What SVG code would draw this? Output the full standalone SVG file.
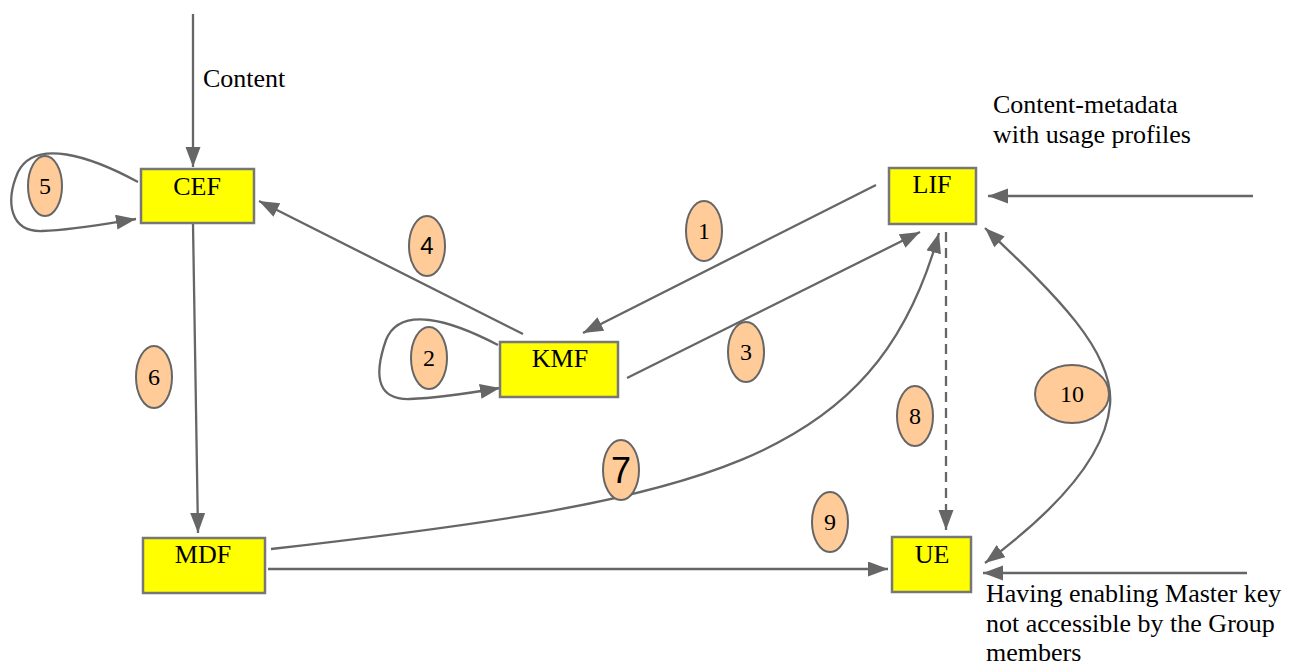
<svg xmlns="http://www.w3.org/2000/svg" width="1289" height="668" viewBox="0 0 1289 668">
<defs>
<marker id="ah" markerUnits="userSpaceOnUse" markerWidth="22" markerHeight="16" refX="20" refY="7.5" orient="auto">
<path d="M0,0 L20,7.5 L0,15 z" fill="#666"/>
</marker>
<marker id="ahs" markerUnits="userSpaceOnUse" markerWidth="22" markerHeight="16" refX="0" refY="7.5" orient="auto">
<path d="M20,0 L0,7.5 L20,15 z" fill="#666"/>
</marker>
<style>
.box{fill:#ffff00;stroke:#777;stroke-width:2.5}
.lbl{font-family:"Liberation Serif","Times New Roman",serif;font-size:26px;fill:#000}
.bl{font-family:"Liberation Serif","Times New Roman",serif;font-size:26px;fill:#000;text-anchor:middle}
.num{font-family:"Liberation Serif","Times New Roman",serif;font-size:24px;fill:#000;text-anchor:middle}
.nums{font-family:"Liberation Sans",Arial,sans-serif;font-size:24px;fill:#000;text-anchor:middle}
.ell{fill:#ffcc99;stroke:#666;stroke-width:2}
.c{fill:none;stroke:#666;stroke-width:2.3;marker-end:url(#ah)}
</style>
</defs>
<g id="connectors">
<path class="c" d="M193,14 L193,167"/>
<path class="c" d="M138,182 C90,156 35,138 18,172 C5,202 10,232 42,231 C75,230 105,224 136,219"/>
<path class="c" d="M193,224 L198,533"/>
<path class="c" d="M523,334 L259,201"/>
<path class="c" d="M876,185 L583,333"/>
<path class="c" d="M627,378 L920,232"/>
<path class="c" d="M498,345 C450,320 400,305 386,340 C372,380 380,400 410,399 C440,398 470,393 500,388"/>
<path class="c" d="M271,549 C700,500 875,465 939,233"/>
<path class="c" d="M946,232 L946,530" stroke-dasharray="10,6"/>
<path class="c" d="M268,569 L888,569"/>
<path class="c" d="M985,228 C1050,290 1115,350 1110,405 C1105,460 1050,515 985,563" style="marker-start:url(#ahs)"/>
<path class="c" d="M1253,196 L988,196"/>
<path class="c" d="M1247,573 L983,573"/>
</g>
<g id="CEF"><rect class="box" x="141" y="169" width="113" height="54"/><text class="bl" x="197" y="195">CEF</text></g>
<g id="KMF"><rect class="box" x="500" y="342" width="118" height="55"/><text class="bl" x="560" y="367">KMF</text></g>
<g id="LIF"><rect class="box" x="889" y="168" width="87" height="56"/><text class="bl" x="932" y="193">LIF</text></g>
<g id="MDF"><rect class="box" x="143" y="538" width="122" height="55"/><text class="bl" x="203" y="563">MDF</text></g>
<g id="UE"><rect class="box" x="892" y="537" width="79" height="55"/><text class="bl" x="932" y="563">UE</text></g>
<g id="label-1"><ellipse class="ell" cx="704" cy="231" rx="18" ry="30"/><text class="num" x="704" y="239">1</text></g>
<g id="label-2"><ellipse class="ell" cx="429" cy="358" rx="18" ry="31"/><text class="num" x="429" y="366">2</text></g>
<g id="label-3"><ellipse class="ell" cx="746" cy="352" rx="18" ry="30"/><text class="num" x="746" y="360">3</text></g>
<g id="label-4"><ellipse class="ell" cx="427" cy="246" rx="18" ry="30"/><text class="nums" x="427" y="254">4</text></g>
<g id="label-5"><ellipse class="ell" cx="45" cy="186" rx="17" ry="30"/><text class="num" x="45" y="194">5</text></g>
<g id="label-6"><ellipse class="ell" cx="154" cy="377" rx="18" ry="31"/><text class="num" x="154" y="385">6</text></g>
<g id="label-7"><ellipse class="ell" cx="621" cy="470" rx="18" ry="30"/><text class="nums" x="621" y="483" style="font-size:36px">7</text></g>
<g id="label-8"><ellipse class="ell" cx="915" cy="416" rx="18" ry="30"/><text class="num" x="915" y="424">8</text></g>
<g id="label-9"><ellipse class="ell" cx="830" cy="522" rx="18" ry="30"/><text class="num" x="830" y="530">9</text></g>
<g id="label-10"><ellipse class="ell" cx="1072" cy="394" rx="37" ry="29"/><text class="num" x="1072" y="402">10</text></g>
<g id="texts">
<text class="lbl" x="203" y="87">Content</text>
<text class="lbl" x="993" y="113">Content-metadata</text>
<text class="lbl" x="993" y="143">with usage profiles</text>
<text class="lbl" x="986" y="602">Having enabling Master key</text>
<text class="lbl" x="986" y="632">not accessible by the Group</text>
<text class="lbl" x="986" y="661">members</text>
</g>
</svg>
